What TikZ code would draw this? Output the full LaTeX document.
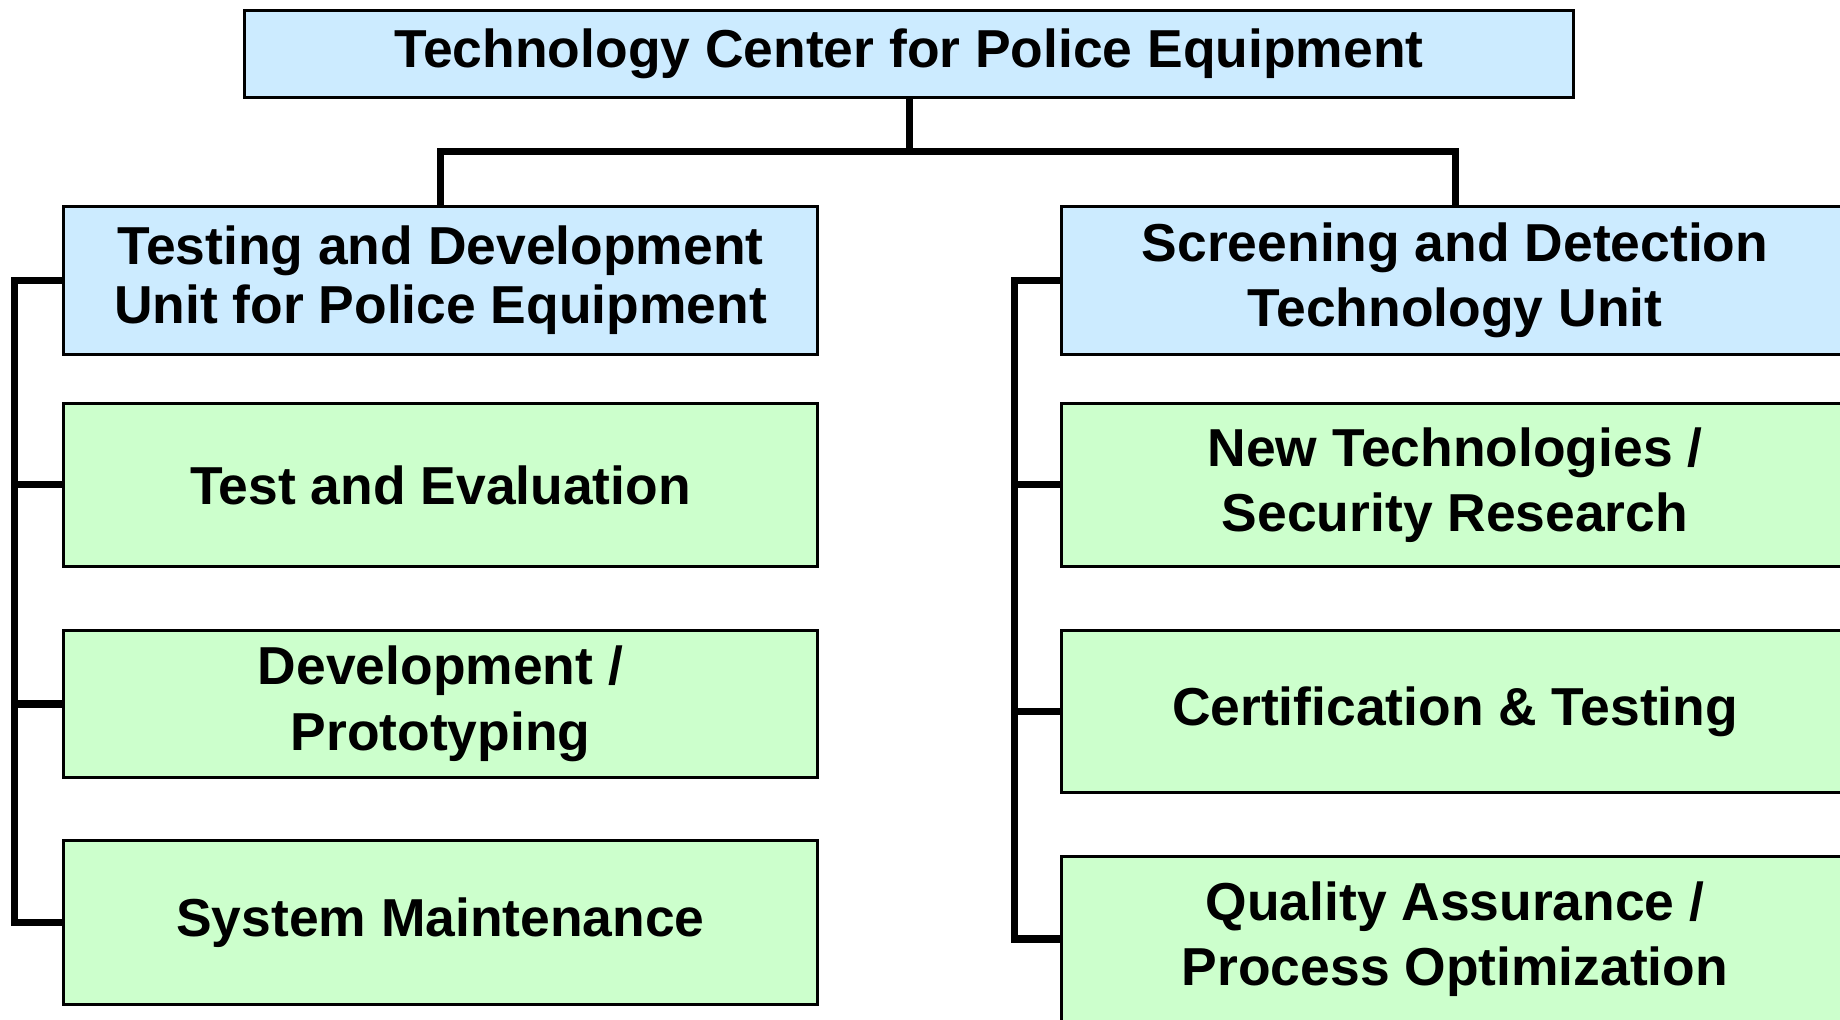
\documentclass[tikz,border=0pt]{standalone}
\usepackage{fontspec}
\setmainfont{Liberation Sans}
\usepackage{tikz}
\usetikzlibrary{positioning}
\definecolor{unitblue}{RGB}{204,235,255}
\definecolor{groupgreen}{RGB}{204,255,204}
\tikzset{
  orgbox/.style={draw=black, line width=0.9pt, align=center, inner sep=0pt,
    font=\fontsize{15.2}{18.6}\selectfont\bfseries},
  unit/.style={orgbox, fill=unitblue},
  group/.style={orgbox, fill=groupgreen},
  link/.style={draw=black, line width=2pt}
}

\begin{document}
\begin{tikzpicture}
\fill[white] (0,0) rectangle (18.4,10.2);
\useasboundingbox (0,0) rectangle (18.4,10.2);
\clip (0,0) rectangle (18.4,10.2);

\def\lx{4.405}
\def\rx{14.55}

\node[unit, minimum width=13.29cm, minimum height=0.87cm, text depth=0.12cm] (center) at (9.09,9.66) {Technology Center for Police Equipment};

\node[unit, minimum width=7.54cm, minimum height=1.48cm, font=\fontsize{15.2}{16.8}\selectfont\bfseries] (tdu) at (\lx,7.395) {Testing and Development\\Unit for Police Equipment};
\node[unit, minimum width=7.87cm, minimum height=1.48cm] (sdu) at (\rx,7.395) {Screening and Detection\\Technology Unit};

\node[group, minimum width=7.54cm, minimum height=1.63cm] (testeval) at (\lx,5.35) {Test and Evaluation};
\node[group, minimum width=7.54cm, minimum height=1.47cm] (devproto) at (\lx,3.16) {Development /\\Prototyping};
\node[group, minimum width=7.54cm, minimum height=1.64cm] (sysmaint) at (\lx,0.975) {System Maintenance};

\node[group, minimum width=7.87cm, minimum height=1.63cm] (newtech) at (\rx,5.35) {New Technologies /\\Security Research};
\node[group, minimum width=7.87cm, minimum height=1.62cm] (certtest) at (\rx,3.085) {Certification \& Testing};
\node[group, minimum width=7.87cm, minimum height=1.65cm] (qualopt) at (\rx,0.81) {Quality Assurance /\\Process Optimization};

% tree lines
\draw[link] (center.south) -- ++(0,-0.52) coordinate (fork);
\draw[link] (tdu.north) |- (fork) -| (sdu.north);

\coordinate (lbus) at (0.145,0);
\coordinate (rbus) at (10.14,0);
\draw[link] (tdu.west) -- (tdu.west -| lbus) -- (sysmaint.west -| lbus) -- (sysmaint.west);
\draw[link] (sdu.west) -- (sdu.west -| rbus) -- (qualopt.west -| rbus) -- (qualopt.west);
\foreach \n/\b in {testeval/lbus, devproto/lbus, newtech/rbus, certtest/rbus}
  \draw[link] (\n.west -| \b) -- (\n.west);

\end{tikzpicture}
\end{document}
